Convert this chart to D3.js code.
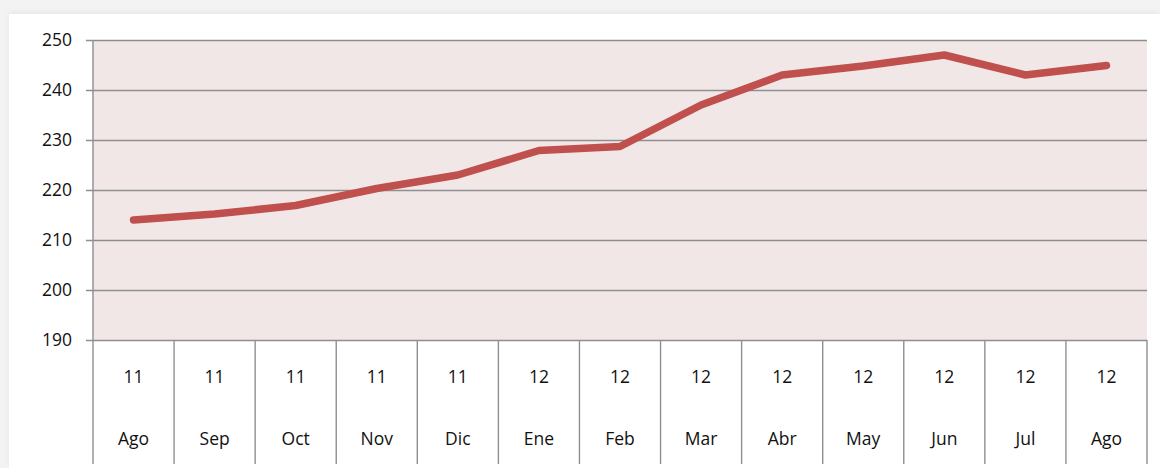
<!DOCTYPE html>
<html>
<head>
<meta charset="utf-8">
<script src="https://cdn.jsdelivr.net/npm/d3@7"></script>
<style>
  html, body { margin: 0; padding: 0; background: #f3f3f3; }
  #card { position: absolute; left: 9px; top: 14px; width: 1151px; height: 454px; background: #fff;
          box-shadow: 0 -2px 6px rgba(0,0,0,0.05); }
  svg { position: absolute; left: 0; top: 0; }
</style>
</head>
<body>
<div id="card"></div>
<svg id="chart" width="1160" height="468"></svg>
<script>
const months = ["Ago", "Sep", "Oct", "Nov", "Dic", "Ene", "Feb", "Mar", "Abr", "May", "Jun", "Jul", "Ago"];
const years = ["11", "11", "11", "11", "11", "12", "12", "12", "12", "12", "12", "12", "12"];
const values = [214, 215.2, 216.9, 220.3, 223, 227.9, 228.7, 237, 243, 244.8, 247, 243, 244.9];
const yTicks = [190, 200, 210, 220, 230, 240, 250];

const margin = {left: 93, top: 40};
const width = 1054, height = 300;
const font = "'Open Sans', sans-serif";

const svg = d3.select("#chart")
  .append("g")
  .attr("transform", "translate(" + margin.left + "," + margin.top + ")");

const x = d3.scaleBand()
  .domain(d3.range(values.length))
  .range([0, width]);

const y = d3.scaleLinear()
  .domain([190, 250])
  .range([height, 0]);

// plot background
svg.append("rect")
  .attr("width", width)
  .attr("height", height)
  .attr("fill", "#f2e7e7");

// horizontal grid + left axis
svg.append("g")
  .call(d3.axisLeft(y).tickValues(yTicks).tickSize(-width).tickSizeOuter(0).tickPadding(21))
  .call(g => g.select(".domain").remove())
  .call(g => g.selectAll(".tick line").attr("stroke", "#8f8f8f").attr("stroke-width", 1.4).attr("x1", -7))
  .call(g => g.selectAll(".tick text")
    .attr("fill", "#111")
    .style("font-family", font)
    .style("font-size", "17.5px"));

// left axis line
svg.append("line")
  .attr("x1", 0).attr("x2", 0)
  .attr("y1", 0).attr("y2", height + 124)
  .attr("stroke", "#8f8f8f")
  .attr("stroke-width", 1.4);

// category separators below plot
svg.append("g")
  .selectAll("line")
  .data(d3.range(values.length))
  .enter()
  .append("line")
  .attr("x1", d => x(d) + x.bandwidth())
  .attr("x2", d => x(d) + x.bandwidth())
  .attr("y1", height)
  .attr("y2", height + 124)
  .attr("stroke", "#8f8f8f")
  .attr("stroke-width", 1.4);

// category labels: year row and month row
const labels = svg.append("g")
  .style("font-family", font)
  .style("font-size", "17.5px")
  .attr("fill", "#111")
  .attr("text-anchor", "middle");

labels.selectAll(".yr")
  .data(years)
  .enter()
  .append("text")
  .attr("x", (d, i) => x(i) + x.bandwidth() / 2)
  .attr("y", height + 43)
  .text(d => d);

labels.selectAll(".mo")
  .data(months)
  .enter()
  .append("text")
  .attr("x", (d, i) => x(i) + x.bandwidth() / 2)
  .attr("y", height + 105)
  .text(d => d);

// the line
const line = d3.line()
  .x((d, i) => x(i) + x.bandwidth() / 2)
  .y(d => y(d));

svg.append("path")
  .datum(values)
  .attr("d", line)
  .attr("fill", "none")
  .attr("stroke", "#c0504d")
  .attr("stroke-width", 7.5)
  .attr("stroke-linecap", "round")
  .attr("stroke-linejoin", "round");
</script>
</body>
</html>
